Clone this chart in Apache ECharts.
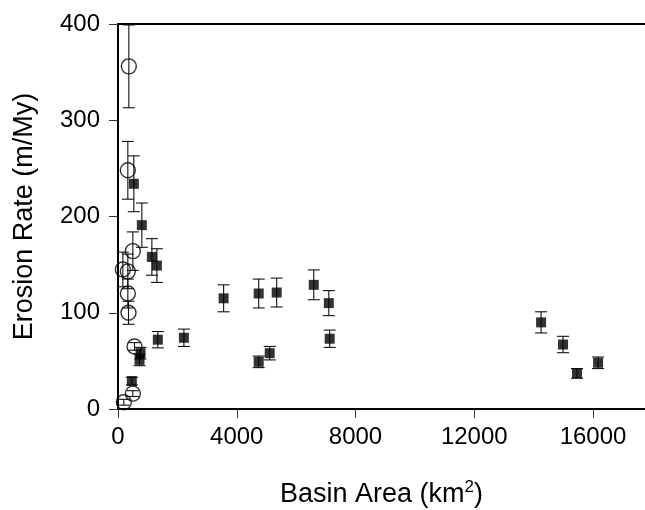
<!DOCTYPE html>
<html>
<head>
<meta charset="utf-8">
<script src="https://cdn.jsdelivr.net/npm/echarts@6/dist/echarts.min.js"></script>
<style>html,body{margin:0;padding:0;background:#fff}#c{width:645px;height:510px}</style>
</head>
<body>
<div id="c"></div>
<script>
// Open circles (basin area km2, erosion rate m/My, error)
const circleX = [365, 331, 500, 163, 331, 331, 354, 556, 500, 196];
const circleY = [356, 248, 164, 145, 143, 120, 100, 65, 16, 7];
const circleErr = [43, 30, 20, 18, 18, 15, 12, 4, 3, 3];
// Filled squares
const squareX = [533, 803, 1141, 1310, 1342, 2219, 759, 725, 466, 3557, 4739, 5345, 6593, 7100, 7130, 4739, 5110, 14250, 14990, 15460, 16170];
const squareY = [234, 191, 158, 149, 72, 74, 58, 51, 29, 115, 120, 121, 129, 110, 73, 49, 58, 90, 67, 37, 48];
const squareErr = [29, 23, 19, 17.5, 8.5, 9, 6, 6, 4, 14, 15, 15, 15.5, 13, 9, 6, 7, 11, 8.5, 5, 6];
const xTicks = [0, 4000, 8000, 12000, 16000];
const yTicks = [0, 100, 200, 300, 400];

const FONT = '"Liberation Sans", Arial, Helvetica, sans-serif';

function pts(xs, ys, es) { return xs.map((x, i) => [x, ys[i], es[i]]); }
const circles = pts(circleX, circleY, circleErr);
const squares = pts(squareX, squareY, squareErr);

function errRender(params, api) {
  const x = api.value(0), y = api.value(1), e = api.value(2);
  const t = api.coord([x, y + e]);
  const b = api.coord([x, y - e]);
  const hw = 6;
  const st = { stroke: '#111', lineWidth: 1.1 };
  return {
    type: 'group',
    children: [
      { type: 'line', shape: { x1: t[0], y1: t[1], x2: b[0], y2: b[1] }, style: st },
      { type: 'line', shape: { x1: t[0] - hw, y1: t[1], x2: t[0] + hw, y2: t[1] }, style: st },
      { type: 'line', shape: { x1: b[0] - hw, y1: b[1], x2: b[0] + hw, y2: b[1] }, style: st }
    ]
  };
}

const chart = echarts.init(document.getElementById('c'), null, { renderer: 'canvas' });
chart.setOption({
  animation: false,
  backgroundColor: '#fff',
  grid: { left: 118, right: 0, top: 24, bottom: 101, containLabel: false, outerBoundsMode: 'none' },
  xAxis: [{
    type: 'value', min: 0, max: 17750, interval: 4000,
    axisLine: { show: true, lineStyle: { color: '#000', width: 2 } },
    axisTick: { show: true, length: 9, customValues: xTicks, lineStyle: { color: '#333', width: 1 } },
    splitLine: { show: false },
    axisLabel: { margin: 16, fontSize: 24, color: '#000', fontFamily: FONT, customValues: xTicks,
      formatter: v => (xTicks.indexOf(v) >= 0 ? String(v) : '') },
    name: 'Basin Area (km{sup|2})', nameLocation: 'middle', nameGap: 70,
    nameTextStyle: { fontSize: 27, color: '#000', fontFamily: FONT,
      rich: { sup: { fontSize: 17, verticalAlign: 'top', padding: [0, 0, 14, 0], fontFamily: FONT, color: '#000' } } }
  }, {
    type: 'value', position: 'top', min: 0, max: 17750,
    axisLine: { show: true, onZero: false, lineStyle: { color: '#000', width: 2 } },
    axisTick: { show: false }, axisLabel: { show: false }, splitLine: { show: false }
  }],
  yAxis: {
    type: 'value', min: 0, max: 400, interval: 100,
    axisLine: { show: true, lineStyle: { color: '#000', width: 2 } },
    axisTick: { show: true, length: 9, lineStyle: { color: '#333', width: 1 } },
    splitLine: { show: false },
    axisLabel: { margin: 18, fontSize: 24, color: '#000', fontFamily: FONT,
      formatter: v => (yTicks.indexOf(v) >= 0 ? String(v) : '') },
    name: 'Erosion Rate (m/My)', nameLocation: 'middle', nameGap: 80,
    nameTextStyle: { fontSize: 27, color: '#000', fontFamily: FONT }
  },
  series: [
    { type: 'custom', renderItem: errRender, data: circles, z: 1, clip: false },
    { type: 'custom', renderItem: errRender, data: squares, z: 1, clip: false },
    { type: 'scatter', data: circles, symbol: 'circle', symbolSize: 15, z: 3,
      itemStyle: { color: 'rgba(255,255,255,0)', borderColor: '#000', borderWidth: 1.4 } },
    { type: 'scatter', data: squares, symbol: 'rect', symbolSize: 10, z: 4,
      itemStyle: { color: '#000' } }
  ]
});
</script>
</body>
</html>
